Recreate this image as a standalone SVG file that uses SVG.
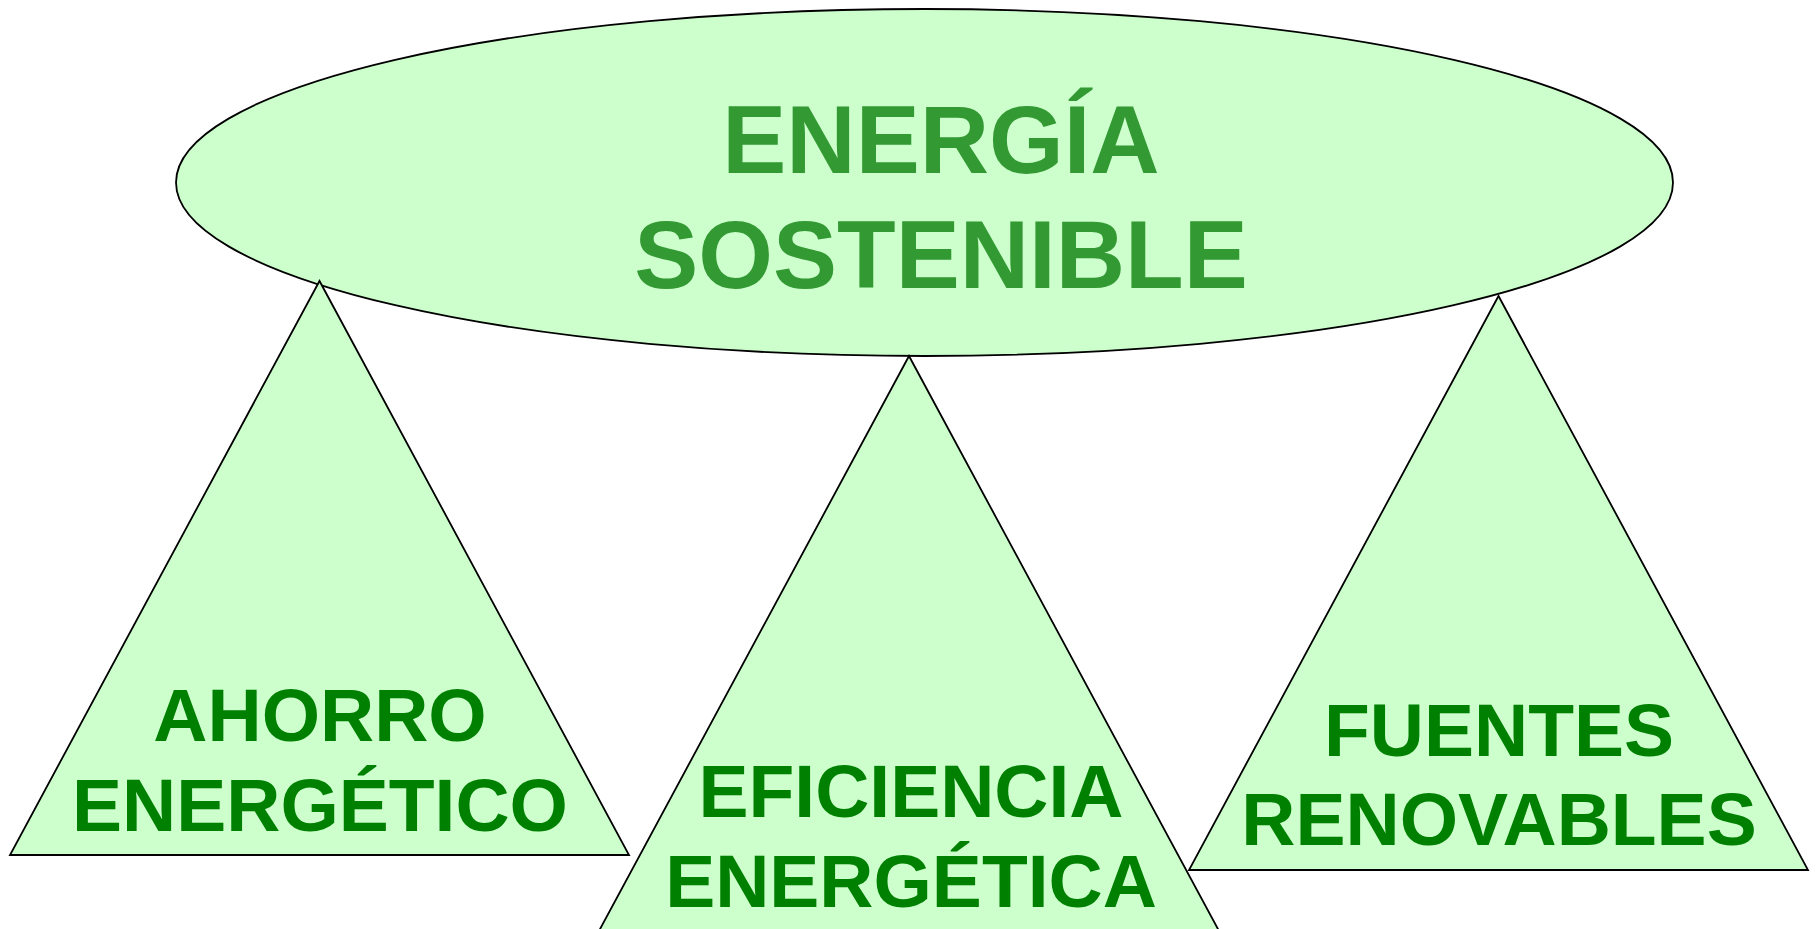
<svg xmlns="http://www.w3.org/2000/svg" width="1818" height="929" viewBox="0 0 1818 929">
<style>
.shape{fill:#CCFFCC;stroke:#000;stroke-width:1.8}
.title{font-family:"Liberation Sans",Arial,sans-serif;font-weight:bold;font-size:96px;fill:#339933;text-anchor:middle}
.lbl{font-family:"Liberation Sans",Arial,sans-serif;font-weight:bold;font-size:75px;fill:#008000;text-anchor:middle}
</style>
<rect width="1818" height="929" fill="#fff"/>
<g id="connectors"></g>
<g id="energia-sostenible">
<ellipse class="shape" cx="924.5" cy="182.5" rx="748.5" ry="173.5" stroke-width="2.2"/>
<text class="title" x="941" y="173">ENERGÍA</text>
<text class="title" x="941" y="288">SOSTENIBLE</text>
</g>
<g id="ahorro">
<polygon class="shape" points="319.5,281 10,855 629,855"/>
<text class="lbl" x="320" y="741">AHORRO</text>
<text class="lbl" x="320" y="831">ENERGÉTICO</text>
</g>
<g id="eficiencia">
<polygon class="shape" points="909,356 599.5,930 1218.5,930"/>
<text class="lbl" x="911" y="817">EFICIENCIA</text>
<text class="lbl" x="911" y="907">ENERGÉTICA</text>
</g>
<g id="fuentes">
<polygon class="shape" points="1498.5,296 1189,870 1808,870"/>
<text class="lbl" x="1499" y="756">FUENTES</text>
<text class="lbl" x="1499" y="845">RENOVABLES</text>
</g>
</svg>
